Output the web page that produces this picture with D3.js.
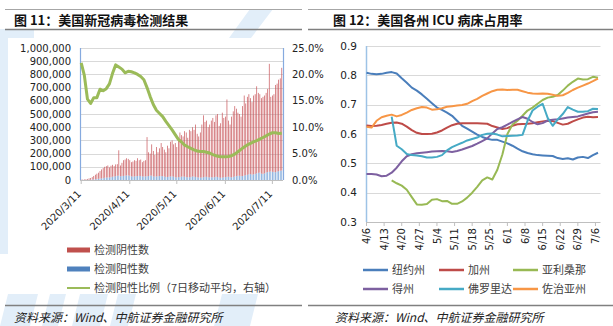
<!DOCTYPE html>
<html>
<head>
<meta charset="utf-8">
<script src="https://cdn.jsdelivr.net/npm/d3@7"></script>
<style>
  body { margin: 0; background: #fff; }
  svg { display: block; }
  text { font-family: "Noto Sans CJK SC", sans-serif; }
  .num { font-family: "DejaVu Sans", sans-serif; font-size: 10px; fill: #222; }
  .leg { font-size: 11px; fill: #404040; }
  .title { font-size: 13px; font-weight: 700; fill: #111; }
  .src { font-size: 12px; font-style: italic; fill: #222; }
</style>
</head>
<body>
<svg id="chart" width="613" height="326"></svg>
<script>
// ---------- left chart data (daily, 2020/3/11 .. 2020/7/17), values in thousands ----------
const negatives = [
  2,3,4,5,7,11,13,19,26,34,41,46,57,68,77,83,87,90,76,87,90,
  79,89,88,192,82,100,119,122,131,125,118,107,114,123,116,135,119,125,108,118,123,297,180,166,237,193,164,223,182,210,
  250,221,204,187,237,215,263,272,245,259,231,278,339,314,304,345,338,299,359,348,373,354,397,329,311,342,401,469,416,426,379,
  400,429,450,419,465,477,391,413,492,449,458,586,425,398,460,497,533,511,478,468,450,530,607,543,591,606,575,549,597,605,
  659,606,593,572,584,590,603,630,818,565,578,590,661,666,693,700,778
];
const positives = [
  0.4,0.5,0.6,0.8,1,1.3,1.8,2.8,4.5,5.8,6.9,9.3,11,12,13.5,17,18,20,19.5,21,25,
  26,29,32,33,28,30,31,33,34,35,32,28,26,27,29,30,31,30,27,27,27,28,30,34,33,27,26,27,28,30,
  30,29,26,23,23,25,27,28,25,21,19,22,21,26,26,25,22,21,21,22,27,26,23,21,19,18,19,21,24,24,21,
  20,21,20,21,25,23,19,17,18,21,22,24,25,22,20,23,27,29,32,32,30,30,33,37,39,44,45,41,43,45,
  51,54,57,48,46,50,57,60,62,65,62,60,59,64,67,70,72
];
// 7-day positive rate (%), every second day starting 3/11
const rateDays = d3.range(0, 129, 2);
const positiveRate = [
  22.2,19.8,15.3,14.5,15.6,15.6,17.2,16.9,17.3,18.2,20.2,21.8,21.4,21.0,20.3,20.6,20.5,20.3,20.0,19.6,
  19.0,17.5,15.8,14.3,13.2,12.6,12.0,11.1,10.3,9.5,8.6,7.7,7.2,6.6,6.3,6.0,5.7,5.5,5.4,5.4,
  5.25,5.1,4.8,4.6,4.45,4.4,4.4,4.45,4.6,4.9,5.35,5.8,6.25,6.65,6.95,7.2,7.45,7.75,8.05,8.35,
  8.7,8.95,8.95,8.8,8.85
];
const testTickIdx = [0, 31, 61, 92, 122];
const testTickLabels = ["2020/3/11", "2020/4/11", "2020/5/11", "2020/6/11", "2020/7/11"];

// ---------- right chart data (every second day from 4/6) ----------
const icuDays = d3.range(0, 93, 2);
const newYork = [0.809,0.805,0.804,0.805,0.809,0.811,0.806,0.79,0.775,0.758,0.748,0.735,0.72,0.705,0.69,0.682,0.673,0.662,0.645,0.628,
  0.618,0.608,0.598,0.59,0.584,0.58,0.58,0.574,0.568,0.56,0.55,0.541,0.535,0.531,0.528,0.527,0.526,0.525,0.518,0.515,
  0.517,0.513,0.52,0.522,0.518,0.528,0.536];
const california = [0.629,0.627,0.628,0.631,0.635,0.638,0.639,0.635,0.625,0.613,0.604,0.6,0.6,0.601,0.605,0.612,0.622,0.63,0.635,0.637,
  0.637,0.637,0.637,0.636,0.635,0.627,0.622,0.617,0.62,0.628,0.633,0.634,0.635,0.637,0.64,0.643,0.645,0.644,0.638,0.632,
  0.635,0.643,0.65,0.656,0.659,0.657,0.658];
const arizona = [null,null,null,null,null,0.442,0.432,0.424,0.41,0.385,0.36,0.359,0.361,0.376,0.378,0.371,0.372,0.362,0.362,0.37,
  0.383,0.4,0.42,0.442,0.452,0.445,0.478,0.53,0.6,0.632,0.645,0.662,0.68,0.69,0.703,0.716,0.724,0.727,0.733,0.748,
  0.765,0.778,0.789,0.786,0.787,0.795,0.792];
const texas = [0.464,0.464,0.462,0.456,0.458,0.468,0.485,0.507,0.524,0.531,0.534,0.536,0.538,0.54,0.541,0.542,0.541,0.539,0.542,0.547,
  0.553,0.559,0.567,0.576,0.585,0.602,0.617,0.623,0.632,0.641,0.65,0.658,0.652,0.641,0.633,0.637,0.646,0.649,0.65,0.653,
  0.656,0.658,0.66,0.665,0.67,0.674,0.676];
const florida = [null,null,null,null,null,0.659,0.56,0.548,0.532,0.528,0.527,0.524,0.52,0.52,0.522,0.528,0.544,0.555,0.563,0.57,
  0.578,0.583,0.588,0.597,0.601,0.602,0.598,0.592,0.593,0.594,0.595,0.597,0.645,0.68,0.693,0.703,0.655,0.628,0.65,0.668,
  0.692,0.683,0.676,0.676,0.678,0.686,0.685];
const georgia = [0.625,0.622,0.645,0.657,0.662,0.666,0.66,0.665,0.673,0.682,0.688,0.692,0.69,0.683,0.684,0.688,0.693,0.695,0.697,0.699,
  0.703,0.712,0.72,0.73,0.738,0.746,0.751,0.752,0.75,0.751,0.751,0.746,0.741,0.738,0.737,0.738,0.737,0.734,0.73,0.732,
  0.74,0.75,0.758,0.765,0.772,0.78,0.789];
const icuTickDays = d3.range(0, 92, 7);
const icuTickLabels = ["4/6","4/13","4/20","4/27","5/4","5/11","5/18","5/25","6/1","6/8","6/15","6/22","6/29","7/6"];

const states = [
  {name: "纽约州", values: newYork, color: "#4a7ebb"},
  {name: "加州", values: california, color: "#be4b48"},
  {name: "亚利桑那", values: arizona, color: "#98b954"},
  {name: "得州", values: texas, color: "#7d60a0"},
  {name: "佛罗里达", values: florida, color: "#46aac5"},
  {name: "佐治亚州", values: georgia, color: "#f79646"}
];

const svg = d3.select("#chart");

// faint watermark behind everything
const wm = svg.append("g").attr("fill", "#e2eef9");
wm.append("polygon").attr("points", "250,9 273,9 251,38 229,38");
wm.append("rect").attr("x", 0).attr("y", 29).attr("width", 34).attr("height", 9);
wm.append("rect").attr("x", 0).attr("y", 29).attr("width", 8).attr("height", 225);
[[0, 30], [42, 58], [72, 100], [110, 128], [214, 250]].forEach(([a, b]) => {
  wm.append("polygon").attr("points", `${a + 8},294 ${b + 8},294 ${b},326 ${a},326`);
});

// header / footer rules
[[5, 302], [308, 613]].forEach(([a, b]) => {
  svg.append("line").attr("x1", a).attr("x2", b).attr("y1", 9.5).attr("y2", 9.5)
    .attr("stroke", "#a6a6a6").attr("stroke-width", 1);
  svg.append("line").attr("x1", a).attr("x2", b).attr("y1", 29.5).attr("y2", 29.5)
    .attr("stroke", "#7f7f7f").attr("stroke-width", 1.3);
  svg.append("line").attr("x1", a).attr("x2", b).attr("y1", 305.5).attr("y2", 305.5)
    .attr("stroke", "#808080").attr("stroke-width", 1.6);
});

svg.append("text").attr("class", "title").attr("x", 14).attr("y", 24.5).text("图 11：美国新冠病毒检测结果");
svg.append("text").attr("class", "title").attr("x", 333).attr("y", 24.5).text("图 12：美国各州 ICU 病床占用率");
svg.append("text").attr("class", "src").attr("x", 14).attr("y", 322).text("资料来源：Wind、中航证券金融研究所");
svg.append("text").attr("class", "src").attr("x", 335).attr("y", 322).text("资料来源：Wind、中航证券金融研究所");

// ================= left chart =================
const L = {left: 80, right: 283, top: 48, bottom: 180};
const tests = negatives.map((n, i) => ({i: i, neg: n, pos: positives[i]}));
const xb = d3.scaleBand().domain(d3.range(tests.length)).range([L.left, L.right]).padding(0.55);
const yl = d3.scaleLinear().domain([0, 1000]).range([L.bottom, L.top]);
const yr = d3.scaleLinear().domain([0, 25]).range([L.bottom, L.top]);

const gl = svg.append("g");
gl.append("g").selectAll("line").data(yl.ticks(10)).join("line")
  .attr("x1", L.left).attr("x2", L.right)
  .attr("y1", d => Math.round(yl(d)) + 0.5).attr("y2", d => Math.round(yl(d)) + 0.5)
  .attr("stroke", "#d9d9d9");

const stacked = d3.stack().keys(["pos", "neg"])(tests);
const barColors = {pos: "#6a9ad3", neg: "#c8555a"};
gl.append("g").selectAll("g").data(stacked).join("g")
  .attr("fill", d => barColors[d.key])
  .selectAll("rect").data(d => d).join("rect")
  .attr("x", d => xb(d.data.i))
  .attr("width", xb.bandwidth())
  .attr("y", d => yl(d[1]))
  .attr("height", d => yl(d[0]) - yl(d[1]));

// axes
gl.append("line").attr("x1", L.left).attr("x2", L.right).attr("y1", L.bottom + 0.5).attr("y2", L.bottom + 0.5)
  .attr("stroke", "#bfbfbf");
gl.selectAll(".xt").data(testTickIdx).join("line")
  .attr("x1", d => xb(d) + xb.bandwidth() / 2).attr("x2", d => xb(d) + xb.bandwidth() / 2)
  .attr("y1", L.bottom).attr("y2", L.bottom + 4).attr("stroke", "#bfbfbf");
[L.left, L.right].forEach(x => {
  gl.append("line").attr("x1", x + 0.5).attr("x2", x + 0.5).attr("y1", L.top).attr("y2", L.bottom)
    .attr("stroke", "#86aadf").attr("stroke-width", 1.2);
});

const bigFmt = d3.format(",");
gl.append("g").selectAll("text").data(yl.ticks(10)).join("text")
  .attr("class", "num").attr("text-anchor", "end")
  .attr("x", 71).attr("y", d => yl(d)).attr("dy", "0.36em")
  .text(d => bigFmt(d * 1000));
gl.append("g").selectAll("text").data(yr.ticks(5)).join("text")
  .attr("class", "num").attr("text-anchor", "start")
  .attr("x", 292).attr("y", d => yr(d)).attr("dy", "0.36em")
  .text(d => d.toFixed(1) + "%");
gl.append("g").selectAll("text").data(testTickIdx).join("text")
  .attr("class", "num").attr("text-anchor", "end")
  .attr("transform", d => `translate(${xb(d) + xb.bandwidth() / 2 - 2},${L.bottom + 12}) rotate(-45)`)
  .attr("dy", "0.36em")
  .text((d, k) => testTickLabels[k]);

const rateLine = d3.line()
  .x((d, k) => xb(rateDays[k]) + xb.bandwidth() / 2)
  .y(d => yr(d));
gl.append("path").datum(positiveRate).attr("d", rateLine)
  .attr("fill", "none").attr("stroke", "#9bbb59").attr("stroke-width", 3).attr("stroke-linejoin", "round");

// left legend
const legL = [
  {label: "检测阴性数", color: "#c0504d", type: "bar", y: 250},
  {label: "检测阳性数", color: "#4f81bd", type: "bar", y: 269},
  {label: "检测阳性比例（7日移动平均，右轴）", color: "#9bbb59", type: "line", y: 288}
];
legL.forEach(d => {
  if (d.type === "bar") {
    svg.append("rect").attr("x", 67).attr("y", d.y - 2.5).attr("width", 23).attr("height", 5).attr("fill", d.color);
  } else {
    svg.append("line").attr("x1", 67).attr("x2", 90).attr("y1", d.y).attr("y2", d.y)
      .attr("stroke", d.color).attr("stroke-width", 2);
  }
  svg.append("text").attr("class", "leg").attr("x", 94).attr("y", d.y).attr("dy", "0.36em").text(d.label);
});

// ================= right chart =================
const R = {left: 366.5, right: 600.5, top: 46, bottom: 222};
const xr = d3.scaleLinear().domain([0, 93]).range([R.left, R.right]);
const yi = d3.scaleLinear().domain([0.3, 0.9]).range([R.bottom, R.top]);
const gr = svg.append("g");

gr.append("g").selectAll("line").data(yi.ticks(6).filter(d => d > 0.31)).join("line")
  .attr("x1", R.left).attr("x2", R.right)
  .attr("y1", d => Math.round(yi(d)) + 0.5).attr("y2", d => Math.round(yi(d)) + 0.5)
  .attr("stroke", "#d9d9d9");
gr.append("line").attr("x1", R.left).attr("x2", R.right).attr("y1", R.bottom + 0.5).attr("y2", R.bottom + 0.5)
  .attr("stroke", "#bfbfbf");
gr.append("g").selectAll("line").data(icuTickDays).join("line")
  .attr("x1", d => xr(d)).attr("x2", d => xr(d))
  .attr("y1", R.bottom).attr("y2", R.bottom + 4).attr("stroke", "#bfbfbf");
gr.append("line").attr("x1", R.left).attr("x2", R.left).attr("y1", R.top).attr("y2", R.bottom)
  .attr("stroke", "#9dc3e6").attr("stroke-width", 1.5);

gr.append("g").selectAll("text").data(yi.ticks(6)).join("text")
  .attr("class", "num").style("font-size", "10.5px").attr("text-anchor", "end")
  .attr("x", 357).attr("y", d => yi(d)).attr("dy", "0.36em")
  .text(d => d.toFixed(1));
gr.append("g").selectAll("text").data(icuTickDays).join("text")
  .attr("class", "num").attr("text-anchor", "end")
  .attr("transform", d => `translate(${xr(d)},${R.bottom + 6}) rotate(-90)`)
  .attr("dy", "0.36em")
  .text((d, k) => icuTickLabels[k]);

const icuLine = d3.line()
  .defined(d => d != null)
  .x((d, k) => xr(icuDays[k]))
  .y(d => yi(d));
gr.append("g").selectAll("path").data(states).join("path")
  .attr("d", d => icuLine(d.values))
  .attr("fill", "none").attr("stroke", d => d.color).attr("stroke-width", 2)
  .attr("stroke-linejoin", "round");

// right legend
const legX = [363, 439, 513];
states.forEach((d, k) => {
  const x = legX[k % 3], y = k < 3 ? 270 : 289;
  svg.append("line").attr("x1", x).attr("x2", x + 25).attr("y1", y).attr("y2", y)
    .attr("stroke", d.color).attr("stroke-width", 2.5);
  svg.append("text").attr("class", "leg").attr("x", x + 29).attr("y", y).attr("dy", "0.36em").text(d.name);
});
</script>
</body>
</html>
